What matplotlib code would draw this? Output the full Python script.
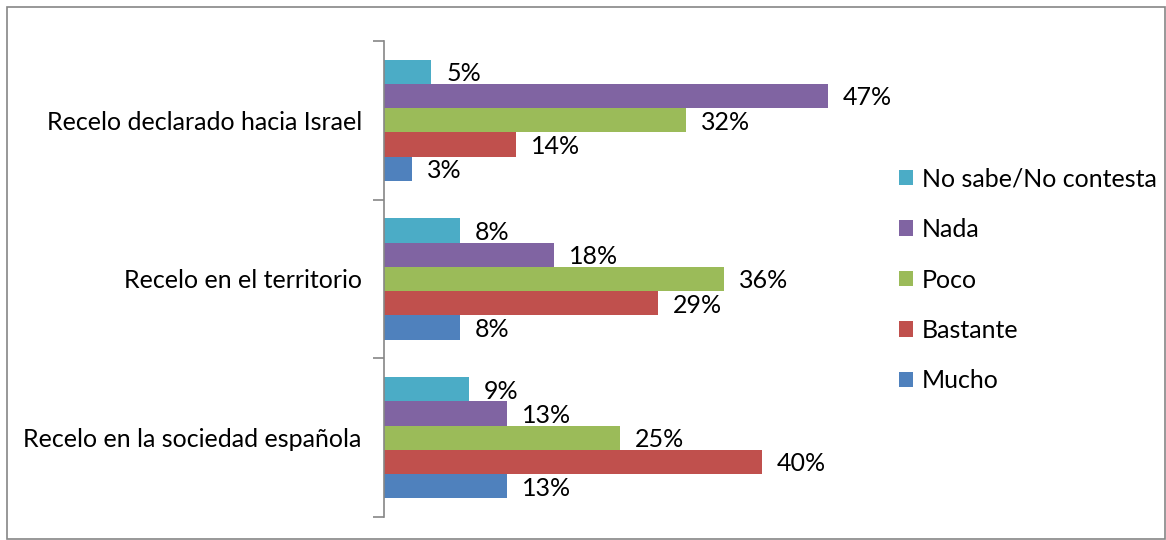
import numpy as np
import matplotlib
matplotlib.use('Agg')
import matplotlib.pyplot as plt
from matplotlib.patches import Rectangle

categories = ['Recelo declarado hacia Israel', 'Recelo en el territorio',
              'Recelo en la sociedad española']
series = ['No sabe/No contesta', 'Nada', 'Poco', 'Bastante', 'Mucho']
values = {
    'No sabe/No contesta': [5, 8, 9],
    'Nada': [47, 18, 13],
    'Poco': [32, 36, 25],
    'Bastante': [14, 29, 40],
    'Mucho': [3, 8, 13],
}
colors = ['#4BACC6', '#8064A2', '#9BBB59', '#C0504D', '#4F81BD']

plt.rcParams['font.family'] = ['Lato', 'DejaVu Sans']
fs = 18

fig = plt.figure(figsize=(11.66, 5.4), dpi=100)
ax = fig.add_axes([384 / 1166, 1 - 517 / 540, 472 / 1166, 476 / 540])

fig.patches.append(Rectangle((7 / 1166, 1 / 540), 1158 / 1166, 532 / 540,
                             transform=fig.transFigure, fill=False,
                             edgecolor='#868686', linewidth=1.2))

h = 0.153
y = np.arange(len(categories))
for i, (s, c) in enumerate(zip(series, colors)):
    off = (i - 2) * h
    v = np.array(values[s])
    ax.barh(y + off, v, height=h, color=c, label=s, edgecolor='none')
    for yy, vv in zip(y + off, v):
        ax.text(vv + 1.6, yy + 0.012, '%d%%' % vv, va='center', ha='left', fontsize=fs)

ax.set_xlim(0, 50)
ax.set_ylim(2.5, -0.5)
ax.set_xticks([])
ax.set_yticks(y)
ax.set_yticklabels(categories, fontsize=fs)
ax.set_yticks([-0.5, 0.5, 1.5, 2.5], minor=True)
ax.tick_params(axis='y', which='major', length=0, pad=16)
ax.tick_params(axis='y', which='minor', length=8, color='#868686', width=1.2)
for sp in ['top', 'right', 'bottom']:
    ax.spines[sp].set_visible(False)
ax.spines['left'].set_color('#868686')
ax.spines['left'].set_linewidth(1.2)

ax.legend(loc='center left', bbox_to_anchor=(899 / 1166, 1 - 280 / 540),
          bbox_transform=fig.transFigure, borderaxespad=0, borderpad=0,
          frameon=False, fontsize=fs, handlelength=0.58, handleheight=0.58,
          handletextpad=0.33, labelspacing=1.1)

fig.savefig('out.png', dpi=100)
